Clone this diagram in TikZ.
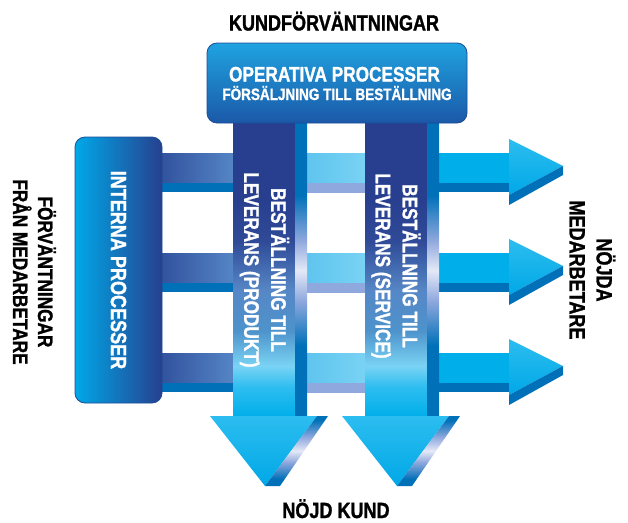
\documentclass[tikz,border=0pt]{standalone}
\usepackage{fontspec}
\newfontfamily\condfont[FakeStretch=0.82,FakeBold=1.2,UprightFont={* Bold},BoldFont={* Bold}]{Liberation Sans}
\definecolor{navy}{HTML}{283F8F}
\definecolor{stripB}{HTML}{0070B8}
\definecolor{cyanB}{HTML}{00AEEA}
\definecolor{skyA}{HTML}{5EC4EE}
\definecolor{skyB}{HTML}{7AD3F4}
\definecolor{lavE}{HTML}{8FA8DD}
\definecolor{glow}{HTML}{E4E9F7}
\definecolor{hLa}{HTML}{2C4A98}
\definecolor{hLb}{HTML}{5687C6}
\definecolor{topA}{HTML}{1FA3E0}
\definecolor{topB}{HTML}{1B58A8}
\definecolor{boxEdge}{HTML}{1C4C96}
\definecolor{leftA}{HTML}{00A8E8}
\definecolor{leftB}{HTML}{26408F}
\definecolor{headA}{HTML}{2CBDF0}
\definecolor{headB}{HTML}{00A8E6}
\pgfdeclareverticalshading{vshaft}{100bp}{color(0bp)=(cyanB); color(25bp)=(cyanB); color(30bp)=(headA); color(33.6bp)=(skyB); color(39.5bp)=(hLb!90!cyan); color(46.3bp)=(hLb); color(54.7bp)=(navy!85!hLb); color(61.5bp)=(navy); color(100bp)=(navy)}
\pgfdeclareverticalshading{vstrip}{100bp}{color(0bp)=(stripB); color(37bp)=(stripB); color(44.6bp)=(lavE); color(49.7bp)=(glow); color(54.7bp)=(lavE); color(62.3bp)=(stripB); color(100bp)=(stripB)}
\pgfdeclareverticalshading{vbevel}{100bp}{color(0bp)=(stripB); color(30bp)=(stripB); color(42bp)=(lavE); color(50bp)=(glow); color(60bp)=(lavE); color(72bp)=(stripB); color(100bp)=(stripB)}
\begin{document}
\begin{tikzpicture}[x=1pt,y=-1pt,
  lbl/.style={font=\condfont\fontsize{22}{27}\selectfont, text=black, align=center, inner sep=0pt},
  wlbl/.style={lbl, text=white},
  boxstyle/.style={draw=boxEdge, line width=0.8pt, rounded corners=10pt, inner sep=0pt}
]
\useasboundingbox (0,0) rectangle (628,522);

% horizontal rows with right arrows
\foreach \y in {0,100,200} {
  \shade[left color=hLa, right color=hLb] (150,{153+\y}) rectangle (236,{183+\y});
  \fill[stripB] (150,{183+\y}) rectangle (236,{192+\y});
  \shade[left color=skyA, right color=skyB] (304,{153+\y}) rectangle (368,{183+\y});
  \shade[left color=lavE, middle color=glow, right color=lavE] (304,{183+\y}) rectangle (368,{192+\y});
  \fill[cyanB] (437,{153+\y}) rectangle (511,{183+\y});
  \fill[stripB] (437,{183+\y}) rectangle (511,{192+\y});
  \shade[top color=headA, bottom color=headB] (509,{139+\y}) -- (563,{166+\y}) -- (509,{195+\y}) -- cycle;
  \shade[left color=stripB, middle color=glow, right color=stripB] (509,{195+\y}) -- (563,{166+\y}) -- (563,{175+\y}) -- (509,{205+\y}) -- cycle;
}

% vertical arrows
\foreach \x in {0,132} {
  \shade[shading=vshaft] ({233+\x},120) rectangle ({295.5+\x},417);
  \shade[shading=vstrip] ({295+\x},120) rectangle ({307+\x},417);
  \shade[top color=headA, bottom color=headB] ({210+\x},416) -- ({317+\x},416) -- ({265+\x},486) -- cycle;
  \shade[shading=vbevel] ({317+\x},416) -- ({328+\x},416) -- ({280+\x},486) -- ({265+\x},486) -- cycle;
}

% left box
\node[boxstyle, minimum width=87pt, minimum height=266pt, left color=leftA, right color=leftB] (intbox) at (118.5,270) {};
\node[wlbl, rotate=-90] (inttxt) at (intbox.center) {INTERNA PROCESSER};

% top box
\node[boxstyle, minimum width=260pt, minimum height=80pt, top color=topA, bottom color=topB] (ops) at (337,83) {};
\node[wlbl, anchor=base, font=\condfont\fontsize{21}{25}\selectfont] (ops1) at (334.5,81.5) {OPERATIVA PROCESSER};
\node[wlbl, anchor=base, font=\condfont\fontsize{16.5}{20}\selectfont] (ops2) at (337,100) {FÖRSÄLJNING TILL BESTÄLLNING};

% shaft texts
\node[wlbl, rotate=-90, font=\condfont\fontsize{21}{27}\selectfont] (prod) at (264.5,270) {BESTÄLLNING TILL\\LEVERANS (PRODUKT)};
\node[wlbl, rotate=-90, font=\condfont\fontsize{21}{27}\selectfont] (serv) at (396,266) {BESTÄLLNING TILL\\LEVERANS (SERVICE)};

% outside labels
\node[lbl, anchor=base] (kund) at (334,30.5) {KUNDFÖRVÄNTNINGAR};
\node[lbl, anchor=base] (nojd) at (336,518) {NÖJD KUND};
\node[lbl, rotate=-90, font=\condfont\fontsize{21}{25}\selectfont] (forv) at (34.5,272) {FÖRVÄNTNINGAR\\FRÅN MEDARBETARE};
\node[lbl, rotate=-90] (nmed) at (592.5,270) {NÖJDA\\MEDARBETARE};
\end{tikzpicture}
\end{document}
